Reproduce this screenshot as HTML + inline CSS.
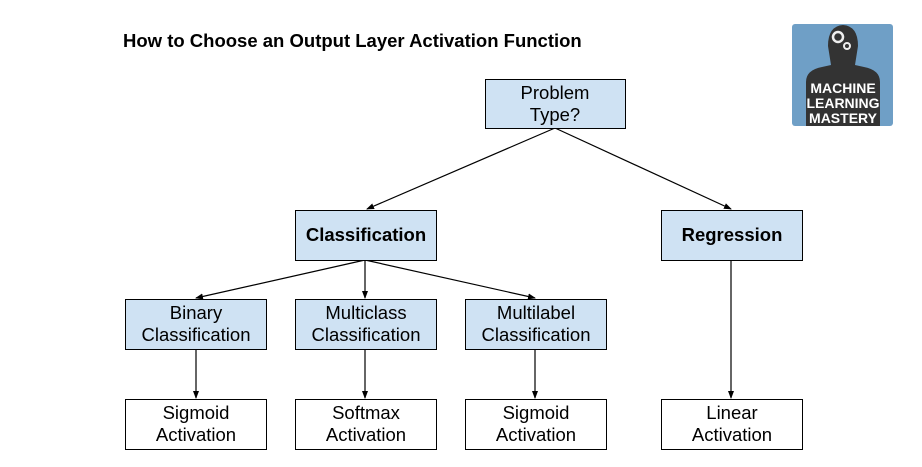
<!DOCTYPE html>
<html><head><style>body{margin:0;background:#fff}</style></head><body>
<svg width="922" height="462" xmlns="http://www.w3.org/2000/svg" font-family="Liberation Sans, Arial, sans-serif">
<defs><marker id="a" markerWidth="8" markerHeight="8" refX="7" refY="4" orient="auto" markerUnits="userSpaceOnUse"><path d="M0,1 L8,4 L0,7z" fill="#000"/></marker></defs>
<text x="123" y="47" font-size="18.5" font-weight="bold">How to Choose an Output Layer Activation Function</text>
<rect x="792" y="24" width="101" height="102" rx="3" fill="#6f9fc6"/>
<path d="M806,126 L806,82 Q806,70 822,67 L831,65 L828,46 Q828,26 843,25 Q858,26 858,46 L855,65 L864,67 Q880,70 880,82 L880,126z" fill="#333"/>
<circle cx="838" cy="37" r="5" fill="none" stroke="#eee" stroke-width="2.5"/>
<circle cx="847" cy="46" r="3" fill="none" stroke="#eee" stroke-width="2"/>
<g fill="#fff" font-size="14" font-weight="bold" text-anchor="middle" font-family="Liberation Sans Narrow, Liberation Sans, sans-serif"><text x="843" y="93">MACHINE</text><text x="843" y="108">LEARNING</text><text x="843" y="123">MASTERY</text></g>
<g stroke="#000" stroke-width="1.2" marker-end="url(#a)">
<line x1="555" y1="128" x2="367" y2="209"/>
<line x1="555" y1="128" x2="731" y2="209"/>
<line x1="365" y1="260" x2="196" y2="298"/>
<line x1="365" y1="260" x2="365" y2="298"/>
<line x1="365" y1="260" x2="535" y2="298"/>
<line x1="196" y1="349" x2="196" y2="398"/>
<line x1="365" y1="349" x2="365" y2="398"/>
<line x1="535" y1="349" x2="535" y2="398"/>
<line x1="731" y1="260" x2="731" y2="398"/>
</g>
<g stroke="#000" stroke-width="1" fill="#cfe2f3">
<rect x="485.5" y="79.5" width="140" height="49"/>
<rect x="295.5" y="210.5" width="141" height="50"/>
<rect x="661.5" y="210.5" width="141" height="50"/>
<rect x="125.5" y="299.5" width="141" height="50"/>
<rect x="295.5" y="299.5" width="141" height="50"/>
<rect x="465.5" y="299.5" width="141" height="50"/>
</g>
<g stroke="#000" stroke-width="1" fill="#fff">
<rect x="125.5" y="399.5" width="141" height="50"/>
<rect x="295.5" y="399.5" width="141" height="50"/>
<rect x="465.5" y="399.5" width="141" height="50"/>
<rect x="661.5" y="399.5" width="141" height="50"/>
</g>
<g font-size="18.5" text-anchor="middle" fill="#000">
<text x="555" y="99">Problem</text><text x="555" y="121">Type?</text>
<text x="366" y="241" font-weight="bold">Classification</text>
<text x="732" y="241" font-weight="bold">Regression</text>
<text x="196" y="319">Binary</text><text x="196" y="341">Classification</text>
<text x="366" y="319">Multiclass</text><text x="366" y="341">Classification</text>
<text x="536" y="319">Multilabel</text><text x="536" y="341">Classification</text>
<text x="196" y="419">Sigmoid</text><text x="196" y="441">Activation</text>
<text x="366" y="419">Softmax</text><text x="366" y="441">Activation</text>
<text x="536" y="419">Sigmoid</text><text x="536" y="441">Activation</text>
<text x="732" y="419">Linear</text><text x="732" y="441">Activation</text>
</g>
</svg>
</body></html>
